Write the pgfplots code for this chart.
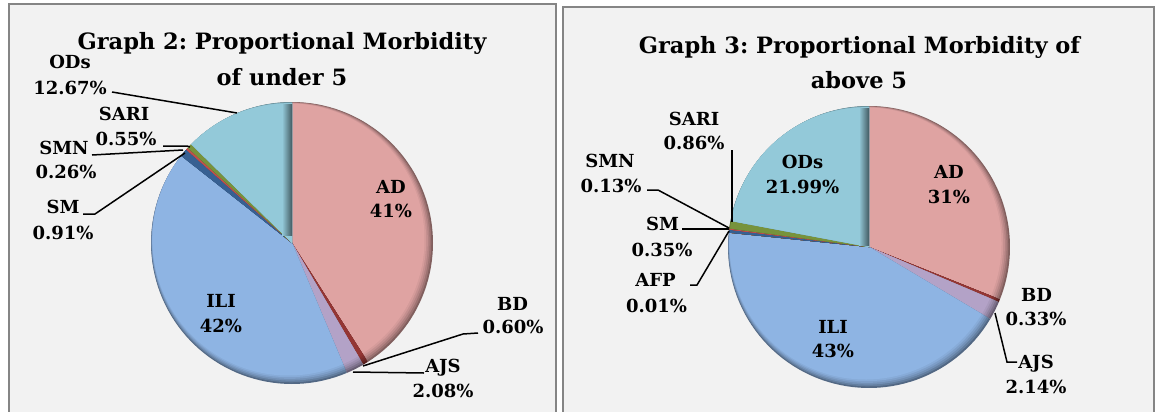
\documentclass[border=0pt]{standalone}
\usepackage{fontspec}
\setmainfont{DejaVu Serif}
\usepackage{pgfplots}
\pgfplotsset{compat=1.18}
\definecolor{Panel}{HTML}{F2F2F2}
\definecolor{Frame}{HTML}{858585}
\definecolor{cAD}{HTML}{DFA3A2}
\definecolor{cBD}{HTML}{943634}
\definecolor{cAJS}{HTML}{B3A2C7}
\definecolor{cILI}{HTML}{8EB4E3}
\definecolor{cAFP}{HTML}{E46C0A}
\definecolor{cSM}{HTML}{376092}
\definecolor{cSMN}{HTML}{C0504D}
\definecolor{cSARI}{HTML}{77933C}
\definecolor{cODs}{HTML}{93C9D9}

% one layer of a slice: centre #1,#2; total #3; cumulative % from #4 to #5; colour #6; rim depth #7
\newcommand\pielayer[7]{%
  \addplot[draw=none,fill=#6,domain=#4*360/#3:#5*360/#3,samples=60]
    ({#1+(141-#7*(1-cos(x-315)))*sin(x)},{#2-(141-#7*(1-cos(x-315)))*cos(x)})
    -- (axis cs:#1,#2) -- cycle;}
% a slice with the darker bevelled rim (light from top left)
\newcommand\slice[6]{%
  \pielayer{#1}{#2}{#3}{#4}{#5}{#6!58!black}{0}%
  \pielayer{#1}{#2}{#3}{#4}{#5}{#6!70!black}{1}%
  \pielayer{#1}{#2}{#3}{#4}{#5}{#6!80!black}{2}%
  \pielayer{#1}{#2}{#3}{#4}{#5}{#6!88!black}{3}%
  \pielayer{#1}{#2}{#3}{#4}{#5}{#6!95!black}{4}%
  \pielayer{#1}{#2}{#3}{#4}{#5}{#6}{5}}

\tikzset{lab/.style={anchor=base,font=\bfseries\fontsize{9}{11}\selectfont},
  ttl/.style={anchor=base,font=\bfseries\fontsize{11.25}{13}\selectfont},
  lead/.style={black,line width=0.75pt}}

\begin{document}
\frenchspacing
\begin{tikzpicture}
\begin{axis}[scale only axis,width=578pt,height=206pt,
  xmin=0,xmax=1156,ymin=0,ymax=412,y dir=reverse,hide axis]
% panels
\fill[Panel] (axis cs:9,4) rectangle (axis cs:556,412);
\draw[Frame,line width=1pt] (axis cs:9,412) -- (axis cs:9,4) -- (axis cs:556,4) -- (axis cs:556,412);
\fill[Panel] (axis cs:563,7) rectangle (axis cs:1154,412);
\draw[Frame,line width=1pt] (axis cs:563,412) -- (axis cs:563,7) -- (axis cs:1154,7) -- (axis cs:1154,412);

% Graph 2: under 5 (AD 41, BD 0.60, AJS 2.08, ILI 42, SM 0.91, SMN 0.26, SARI 0.55, ODs 12.67)
\slice{292}{243}{100.07}{0}{41}{cAD}
\slice{292}{243}{100.07}{41}{41.60}{cBD}
\slice{292}{243}{100.07}{41.60}{43.68}{cAJS}
\slice{292}{243}{100.07}{43.68}{85.68}{cILI}
\slice{292}{243}{100.07}{85.68}{86.59}{cSM}
\slice{292}{243}{100.07}{86.59}{86.85}{cSMN}
\slice{292}{243}{100.07}{86.85}{87.40}{cSARI}
\slice{292}{243}{100.07}{87.40}{100.07}{cODs}
% bevel shadow along the ODs edge at 12 o'clock
\fill[left color=cODs,right color=cODs!45!black,draw=none]
  (axis cs:282,104) rectangle (axis cs:292,235);

% Graph 3: above 5 (AD 31, BD 0.33, AJS 2.14, ILI 43, AFP 0.01, SM 0.35, SMN 0.13, SARI 0.86, ODs 21.99)
\slice{869}{247}{99.81}{0}{31}{cAD}
\slice{869}{247}{99.81}{31}{31.33}{cBD}
\slice{869}{247}{99.81}{31.33}{33.47}{cAJS}
\slice{869}{247}{99.81}{33.47}{76.47}{cILI}
\slice{869}{247}{99.81}{76.47}{76.48}{cAFP}
\slice{869}{247}{99.81}{76.48}{76.83}{cSM}
\slice{869}{247}{99.81}{76.83}{76.96}{cSMN}
\slice{869}{247}{99.81}{76.96}{77.82}{cSARI}
\slice{869}{247}{99.81}{77.82}{99.81}{cODs}
\fill[left color=cODs,right color=cODs!45!black,draw=none]
  (axis cs:859,108) rectangle (axis cs:869,245);

% leader lines
\draw[lead] (axis cs:112,92) -- (axis cs:237,113);
\draw[lead] (axis cs:163,146) -- (axis cs:187,146) -- (axis cs:190,147);
\draw[lead] (axis cs:92,155) -- (axis cs:183,150);
\draw[lead] (axis cs:83,214) -- (axis cs:95,214) -- (axis cs:185,153);
\draw[lead] (axis cs:478,333) -- (axis cs:463,334) -- (axis cs:363,366);
\draw[lead] (axis cs:424,373) -- (axis cs:353,372);
\draw[lead] (axis cs:732,150) -- (axis cs:732,222);
\draw[lead] (axis cs:647,190) -- (axis cs:658,190) -- (axis cs:729,228);
\draw[lead] (axis cs:682,229) -- (axis cs:729,229);
\draw[lead] (axis cs:690,285) -- (axis cs:697,285) -- (axis cs:729,231);
\draw[lead] (axis cs:995,313) -- (axis cs:1007,362) -- (axis cs:1017,362);

% titles
\node[ttl] at (axis cs:282,49) {Graph 2: Proportional Morbidity};
\node[ttl] at (axis cs:282,85) {of under 5};
\node[ttl] at (axis cs:859.5,53) {Graph 3: Proportional Morbidity of};
\node[ttl] at (axis cs:859,88) {above 5};

% labels, graph 2
\node[lab] at (axis cs:70,68) {ODs};
\node[lab] at (axis cs:70,94) {12.67\%};
\node[lab] at (axis cs:124,120) {SARI};
\node[lab] at (axis cs:126,145) {0.55\%};
\node[lab] at (axis cs:64,154) {SMN};
\node[lab] at (axis cs:66,178) {0.26\%};
\node[lab] at (axis cs:63,213) {SM};
\node[lab] at (axis cs:63,239) {0.91\%};
\node[lab] at (axis cs:391,193) {AD};
\node[lab] at (axis cs:391,217) {41\%};
\node[lab] at (axis cs:221,307) {ILI};
\node[lab] at (axis cs:221,332) {42\%};
\node[lab] at (axis cs:512.5,310) {BD};
\node[lab] at (axis cs:513,333) {0.60\%};
\node[lab] at (axis cs:443,372) {AJS};
\node[lab] at (axis cs:443,397) {2.08\%};

% labels, graph 3
\node[lab] at (axis cs:694,125) {SARI};
\node[lab] at (axis cs:694,149) {0.86\%};
\node[lab] at (axis cs:610,167) {SMN};
\node[lab] at (axis cs:611,192) {0.13\%};
\node[lab] at (axis cs:662.5,230) {SM};
\node[lab] at (axis cs:662,256) {0.35\%};
\node[lab] at (axis cs:655.5,286) {AFP};
\node[lab] at (axis cs:656.5,312) {0.01\%};
\node[lab] at (axis cs:802.5,168) {ODs};
\node[lab] at (axis cs:802.5,193) {21.99\%};
\node[lab] at (axis cs:833,333) {ILI};
\node[lab] at (axis cs:833,357) {43\%};
\node[lab] at (axis cs:949,178) {AD};
\node[lab] at (axis cs:949,203) {31\%};
\node[lab] at (axis cs:1036.5,301) {BD};
\node[lab] at (axis cs:1036,325) {0.33\%};
\node[lab] at (axis cs:1036,368) {AJS};
\node[lab] at (axis cs:1036,393) {2.14\%};
\end{axis}
\pgfresetboundingbox
\path (current axis.south west) rectangle (current axis.north east);
\end{tikzpicture}
\end{document}
